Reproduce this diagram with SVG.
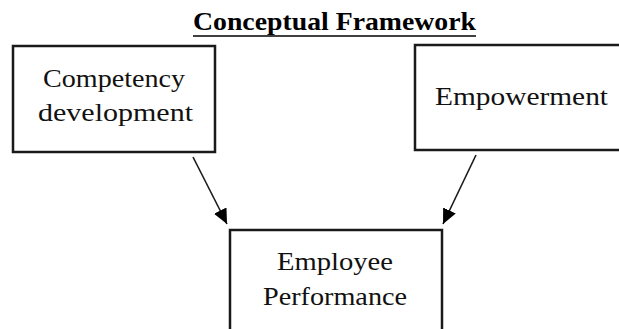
<svg xmlns="http://www.w3.org/2000/svg" width="619" height="329" viewBox="0 0 619 329">
<style>
.box{fill:#fff;stroke:#1a1a1a;stroke-width:2.5}
.lbl{font-family:"Liberation Serif","DejaVu Serif",serif;font-size:25px;fill:#111;text-anchor:middle}
.ttl{font-family:"Liberation Serif","DejaVu Serif",serif;font-size:25px;font-weight:bold;fill:#000;text-anchor:middle}
.conn{stroke:#1a1a1a;stroke-width:1.6;fill:none}
</style>
<defs>
<marker id="ah" markerUnits="userSpaceOnUse" markerWidth="16" markerHeight="14" refX="15" refY="7" orient="auto">
<path d="M0,0 L15,7 L0,14 Z" fill="#000"/>
</marker>
</defs>
<rect width="619" height="329" fill="#fff"/>
<g id="title">
<text class="ttl" x="334.5" y="30" textLength="283" lengthAdjust="spacingAndGlyphs">Conceptual Framework</text>
<line x1="193" y1="36" x2="476" y2="36" stroke="#000" stroke-width="1.6"/>
</g>
<g id="competency">
<rect class="box" x="13" y="46" width="202" height="106"/>
<text class="lbl" x="114" y="87" textLength="142" lengthAdjust="spacingAndGlyphs">Competency</text>
<text class="lbl" x="115.5" y="121" textLength="155" lengthAdjust="spacingAndGlyphs">development</text>
</g>
<g id="empowerment">
<rect class="box" x="415" y="45" width="215" height="105"/>
<text class="lbl" x="521.5" y="105" textLength="173" lengthAdjust="spacingAndGlyphs">Empowerment</text>
</g>
<g id="performance">
<rect class="box" x="230" y="230" width="212" height="110"/>
<text class="lbl" x="335" y="270" textLength="116" lengthAdjust="spacingAndGlyphs">Employee</text>
<text class="lbl" x="335" y="305" textLength="144" lengthAdjust="spacingAndGlyphs">Performance</text>
</g>
<g id="connectors">
<line class="conn" x1="193" y1="157" x2="227" y2="224" marker-end="url(#ah)"/>
<line class="conn" x1="476" y1="155" x2="443" y2="224" marker-end="url(#ah)"/>
</g>
</svg>
